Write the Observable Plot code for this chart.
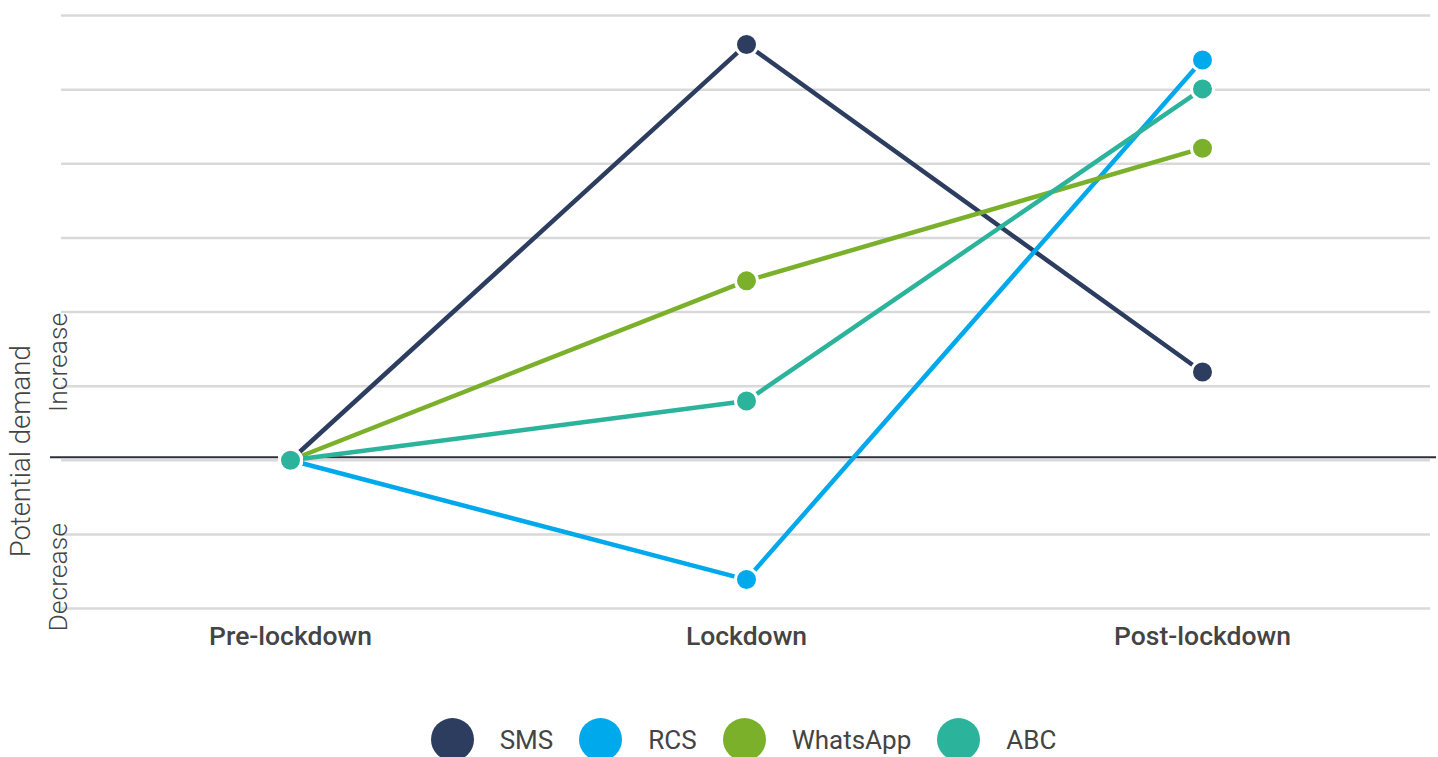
<!DOCTYPE html>
<html>
<head>
<meta charset="utf-8">
<script src="https://cdn.jsdelivr.net/npm/d3@7"></script>
<script src="https://cdn.jsdelivr.net/npm/@observablehq/plot@0.6"></script>
<style>
  html, body { margin: 0; padding: 0; background: #fff; overflow: hidden; }
  body { font-family: Roboto, "Noto Sans", sans-serif; }
  #legend {
    display: flex; justify-content: center; align-items: center; gap: 26px;
    box-sizing: border-box; width: 1438px; padding-left: 57px; padding-right: 8px;
    margin-top: 58px; font-size: 26px; color: #444;
  }
  #legend .sw { width: 43px; height: 43px; border-radius: 50%; flex: none; }
</style>
</head>
<body>
<div id="chart"></div>
<div id="legend"></div>
<script>
const stages = ["Pre-lockdown", "Lockdown", "Post-lockdown"];
const seriesNames = ["SMS", "RCS", "WhatsApp", "ABC"];
const smsValues = [0, 5.61, 1.19];
const rcsValues = [0, -1.61, 5.40];
const whatsappValues = [0, 2.42, 4.21];
const abcValues = [0, 0.80, 5.01];
const seriesColors = ["#2c3d60", "#00a8ec", "#7bb02a", "#2bb39b"];
const gridTicks = [-2, -1, 0, 1, 2, 3, 4, 5, 6];

const valuesBySeries = [smsValues, rcsValues, whatsappValues, abcValues];
const data = [];
seriesNames.forEach((s, i) => {
  stages.forEach((st, j) => data.push({series: s, stage: st, value: valuesBySeries[i][j]}));
});

const chart = Plot.plot({
  width: 1438,
  height: 660,
  marginLeft: 61,
  marginRight: 8,
  marginTop: 15,
  marginBottom: 52,
  style: {fontFamily: "Roboto, sans-serif", background: "#fff"},
  x: {type: "point", domain: stages, padding: 0.5, label: null, axis: null},
  y: {domain: [-2, 6], label: null, axis: null},
  color: {domain: seriesNames, range: seriesColors},
  marks: [
    Plot.gridY(gridTicks, {stroke: "#d9d9d9", strokeOpacity: 1, strokeWidth: 2.5}),
    Plot.ruleY([0], {stroke: "#2b2f3a", strokeWidth: 2, dy: -3, insetLeft: -11, insetRight: -6}),
    Plot.axisX({tickSize: 0, tickPadding: 18, fontSize: 26.5, fontWeight: 500, fill: "#444", label: null}),
    Plot.text(["Potential demand"], {frameAnchor: "left", y: 0.12, dx: -40, rotate: -90, textAnchor: "middle", lineAnchor: "middle", fontSize: 27.5, fontWeight: 300, fill: "#444"}),
    Plot.text(["Increase"], {frameAnchor: "left", y: 1.32, dx: -3, rotate: -90, textAnchor: "middle", lineAnchor: "middle", fontSize: 26.5, fontWeight: 300, fill: "#444"}),
    Plot.text(["Decrease"], {frameAnchor: "left", y: -1.58, dx: -3, rotate: -90, textAnchor: "middle", lineAnchor: "middle", fontSize: 26.5, fontWeight: 300, fill: "#444"}),
    Plot.line(data, {x: "stage", y: "value", z: "series", stroke: "series", strokeWidth: 4.5, strokeLinecap: "butt"}),
    Plot.dot(data, {x: "stage", y: "value", fill: "series", r: 11, stroke: "#fff", strokeWidth: 3})
  ]
});
document.getElementById("chart").appendChild(chart);

const legend = document.getElementById("legend");
seriesNames.forEach((s, i) => {
  const sw = document.createElement("span");
  sw.className = "sw";
  sw.style.background = seriesColors[i];
  const lab = document.createElement("span");
  lab.textContent = s;
  legend.appendChild(sw);
  legend.appendChild(lab);
});
</script>
</body>
</html>
